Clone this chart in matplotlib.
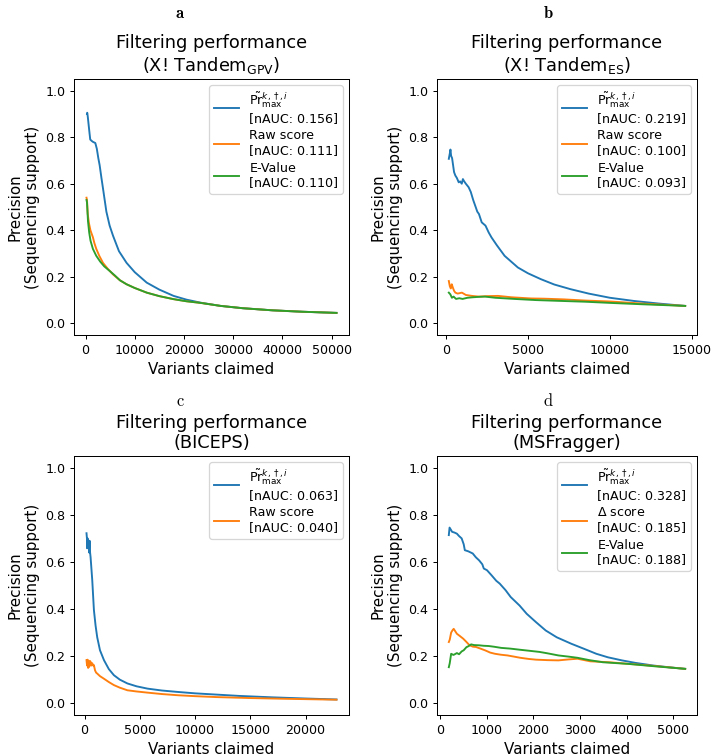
import matplotlib
matplotlib.use("Agg")
import matplotlib.pyplot as plt

# ---------------- data ----------------
PR_LABEL = r'$\tilde{\mathrm{Pr}}^{k,\dagger,i}_{\mathrm{max}}$'

titles = ["Filtering performance\n(X! Tandem$_{\\mathrm{GPV}}$)",
          "Filtering performance\n(X! Tandem$_{\\mathrm{ES}}$)",
          "Filtering performance\n(BICEPS)",
          "Filtering performance\n(MSFragger)"]
panel_letters = ["a", "b", "c", "d"]

# Panel a
a_blue_x = [300, 350, 450, 600, 800, 960, 1200, 1500, 1990, 2300, 2600, 2870, 3200, 3550, 4240, 4900, 5600, 6800,
            8340, 10000, 12440, 15000, 17900, 20500, 23360, 27460, 32000, 38000, 44000, 51000]
a_blue_y = [0.90, 0.905, 0.89, 0.86, 0.82, 0.79, 0.785, 0.78, 0.775, 0.75, 0.71, 0.68, 0.63, 0.58, 0.48, 0.42, 0.376,
            0.31, 0.26, 0.22, 0.175, 0.145, 0.118, 0.102, 0.089, 0.075, 0.065, 0.056, 0.05, 0.045]
a_orange_x = [200, 300, 450, 700, 1000, 1160, 1500, 1800, 2190, 2800, 3550, 4500, 5600, 7000, 8340, 10000, 12440,
              15000, 17900, 20500, 23360, 27460, 32000, 38000, 44000, 51000]
a_orange_y = [0.54, 0.53, 0.47, 0.43, 0.40, 0.39, 0.37, 0.345, 0.32, 0.29, 0.26, 0.235, 0.21, 0.185, 0.168, 0.152,
              0.132, 0.117, 0.104, 0.095, 0.088, 0.075, 0.065, 0.056, 0.05, 0.045]
a_green_x = [200, 300, 500, 750, 1020, 1500, 2190, 3000, 3800, 4920, 6000, 7000, 8340, 10000, 12440, 15000, 17900,
             20500, 23360, 27460, 32000, 38000, 44000, 51000]
a_green_y = [0.53, 0.52, 0.44, 0.39, 0.355, 0.32, 0.29, 0.265, 0.245, 0.225, 0.205, 0.185, 0.168, 0.152, 0.132,
             0.117, 0.104, 0.095, 0.088, 0.075, 0.065, 0.056, 0.05, 0.045]

# Panel b
b_blue_x = [160, 220, 260, 300, 360, 420, 480, 560, 650, 765, 850, 950, 1020, 1100, 1200, 1370, 1500, 1650, 1770,
            1900, 2000, 2170, 2400, 2600, 2770, 3100, 3570, 4380, 5000, 5780, 6600, 7590, 8700, 10000, 11500, 13000,
            14600]
b_blue_y = [0.707, 0.73, 0.747, 0.72, 0.71, 0.68, 0.65, 0.635, 0.625, 0.606, 0.61, 0.60, 0.62, 0.61, 0.60, 0.585,
            0.565, 0.53, 0.506, 0.48, 0.47, 0.434, 0.42, 0.39, 0.369, 0.335, 0.29, 0.24, 0.215, 0.19, 0.167, 0.147,
            0.128, 0.11, 0.096, 0.085, 0.075]
b_orange_x = [160, 220, 280, 340, 400, 480, 560, 700, 960, 1200, 1570, 2000, 2500, 3170, 4000, 5180, 6000, 7190,
              8500, 10000, 12000, 14600]
b_orange_y = [0.182, 0.16, 0.15, 0.168, 0.155, 0.14, 0.132, 0.128, 0.132, 0.122, 0.118, 0.115, 0.117, 0.118, 0.112,
              0.107, 0.106, 0.103, 0.098, 0.094, 0.085, 0.075]
b_green_x = [160, 250, 350, 450, 600, 800, 1000, 1300, 1600, 2000, 2370, 3000, 4170, 5500, 7190, 8500, 10000, 12000,
             14600]
b_green_y = [0.132, 0.125, 0.11, 0.115, 0.105, 0.108, 0.105, 0.11, 0.112, 0.114, 0.115, 0.11, 0.105, 0.1, 0.096,
             0.093, 0.088, 0.082, 0.075]

# Panel c
c_blue_x = [180, 220, 240, 280, 330, 380, 420, 460, 480, 550, 700, 850, 1000, 1150, 1400, 1760, 2200, 2660, 3200,
            3880, 4700, 5700, 7000, 8420, 10000, 11450, 14000, 17000, 20000, 22800]
c_blue_y = [0.722, 0.70, 0.658, 0.70, 0.66, 0.68, 0.64, 0.69, 0.651, 0.62, 0.523, 0.396, 0.33, 0.28, 0.225, 0.183,
            0.145, 0.119, 0.10, 0.084, 0.072, 0.062, 0.054, 0.048, 0.042, 0.038, 0.031, 0.025, 0.02, 0.016]
c_orange_x = [180, 230, 280, 330, 380, 430, 480, 550, 620, 700, 780, 850, 950, 1050, 1150, 1400, 1760, 2200, 2660,
              3200, 3880, 4700, 5700, 7000, 8420, 10000, 12000, 15000, 18000, 22800]
c_orange_y = [0.183, 0.16, 0.185, 0.15, 0.17, 0.155, 0.18, 0.176, 0.16, 0.17, 0.16, 0.162, 0.14, 0.13, 0.126, 0.115,
              0.104, 0.09, 0.077, 0.066, 0.055, 0.05, 0.045, 0.039, 0.034, 0.03, 0.026, 0.022, 0.019, 0.015]

# Panel d
d_blue_x = [180, 196, 230, 250, 300, 354, 400, 456, 500, 524, 600, 694, 760, 830, 900, 932, 1000, 1100, 1200, 1274,
            1400, 1510, 1700, 1853, 2050, 2262, 2500, 2808, 3100, 3350, 3600, 3900, 4200, 4580, 4900, 5260]
d_blue_y = [0.714, 0.746, 0.735, 0.728, 0.725, 0.72, 0.71, 0.70, 0.675, 0.65, 0.645, 0.636, 0.62, 0.607, 0.59, 0.572,
            0.565, 0.543, 0.52, 0.508, 0.48, 0.451, 0.415, 0.38, 0.345, 0.309, 0.28, 0.253, 0.23, 0.21, 0.195, 0.182,
            0.171, 0.16, 0.153, 0.146]
d_orange_x = [180, 200, 230, 260, 285, 320, 354, 420, 490, 560, 626, 700, 762, 860, 967, 1070, 1172, 1300, 1440, 1580,
              1716, 1900, 2057, 2300, 2535, 2750, 2944, 3220, 3630, 4000, 4500, 5260]
d_orange_y = [0.26, 0.27, 0.30, 0.31, 0.316, 0.305, 0.295, 0.285, 0.274, 0.26, 0.246, 0.24, 0.239, 0.232, 0.224,
              0.215, 0.21, 0.206, 0.203, 0.198, 0.193, 0.188, 0.185, 0.183, 0.182, 0.186, 0.189, 0.178, 0.174, 0.168,
              0.16, 0.146]
d_green_x = [180, 200, 230, 280, 354, 400, 456, 500, 558, 600, 660, 720, 830, 930, 1035, 1150, 1308, 1500, 1716, 1900,
             2126, 2300, 2535, 2750, 2944, 3200, 3494, 4040, 4600, 5260]
d_green_y = [0.153, 0.17, 0.21, 0.205, 0.213, 0.208, 0.22, 0.225, 0.238, 0.242, 0.25, 0.247, 0.246, 0.244, 0.243,
             0.24, 0.235, 0.232, 0.227, 0.223, 0.218, 0.212, 0.203, 0.198, 0.193, 0.183, 0.174, 0.167, 0.157, 0.146]

panels = [
    [(a_blue_x, a_blue_y, "#1f77b4", PR_LABEL + "\n[nAUC: 0.156]"),
     (a_orange_x, a_orange_y, "#ff7f0e", "Raw score\n[nAUC: 0.111]"),
     (a_green_x, a_green_y, "#2ca02c", "E-Value\n[nAUC: 0.110]")],
    [(b_blue_x, b_blue_y, "#1f77b4", PR_LABEL + "\n[nAUC: 0.219]"),
     (b_orange_x, b_orange_y, "#ff7f0e", "Raw score\n[nAUC: 0.100]"),
     (b_green_x, b_green_y, "#2ca02c", "E-Value\n[nAUC: 0.093]")],
    [(c_blue_x, c_blue_y, "#1f77b4", PR_LABEL + "\n[nAUC: 0.063]"),
     (c_orange_x, c_orange_y, "#ff7f0e", "Raw score\n[nAUC: 0.040]")],
    [(d_blue_x, d_blue_y, "#1f77b4", PR_LABEL + "\n[nAUC: 0.328]"),
     (d_orange_x, d_orange_y, "#ff7f0e", "$\\Delta$ score\n[nAUC: 0.185]"),
     (d_green_x, d_green_y, "#2ca02c", "E-Value\n[nAUC: 0.188]")],
]
xticks = [[0, 10000, 20000, 30000, 40000, 50000],
          [0, 5000, 10000, 15000],
          [0, 5000, 10000, 15000, 20000],
          [0, 1000, 2000, 3000, 4000, 5000]]
yticks = [0.0, 0.2, 0.4, 0.6, 0.8, 1.0]

# ---------------- figure ----------------
DPI = 91
fig = plt.figure(figsize=(712 / DPI, 756 / DPI), dpi=DPI)
W, H = 712, 756
rects = [
    (74, 79, 275, 256),
    (437, 79, 260, 256),
    (74, 456, 275, 259),
    (437, 456, 260, 259),
]
letter_pos = [(180, 14), (548, 14), (180, 401), (548, 401)]
letter_fonts = ["cmb10", "cmb10", "cmr10", "cmr10"]

for i in range(4):
    l, t, w, h = rects[i]
    ax = fig.add_axes([l / W, 1 - (t + h) / H, w / W, h / H])
    for xs, ys, col, lab in panels[i]:
        ax.plot(xs, ys, color=col, lw=1.5, label=lab)
    ax.set_ylim(-0.05, 1.05)
    ax.set_yticks(yticks)
    ax.set_xticks(xticks[i])
    ax.tick_params(labelsize=10)
    ax.set_xlabel("Variants claimed", fontsize=12)
    ax.set_ylabel("Precision\n(Sequencing support)", fontsize=12)
    ax.set_title(titles[i], fontsize=14)
    ax.legend(loc="upper right", fontsize=10, labelspacing=0.35, borderpad=0.35)
    lx, ly = letter_pos[i]
    fig.text(lx / W, 1 - ly / H, panel_letters[i], ha="center", va="center",
             family=letter_fonts[i], fontsize=13)

fig.savefig("out.png", dpi=DPI)
